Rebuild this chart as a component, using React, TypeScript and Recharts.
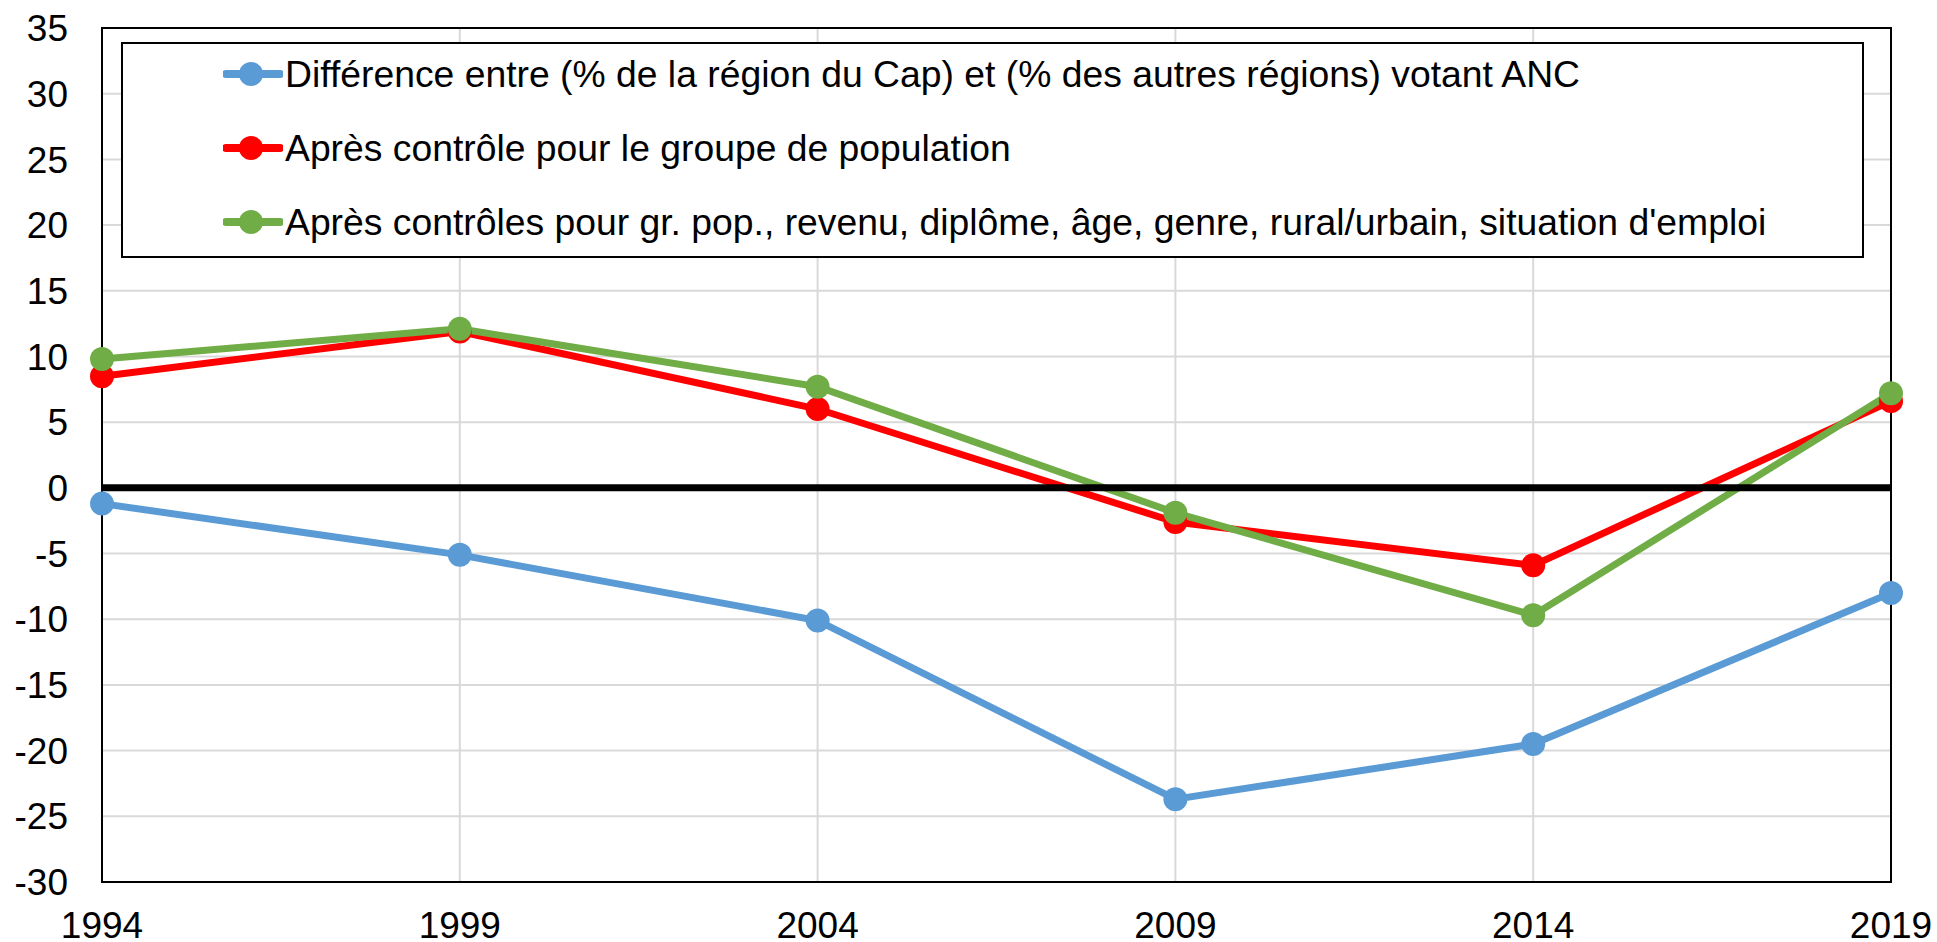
import { LineChart, Line, XAxis, YAxis, CartesianGrid, ReferenceLine, ReferenceArea } from "recharts";

const years = ["1994", "1999", "2004", "2009", "2014", "2019"];
const diffCap = [-1.2, -5.1, -10.1, -23.7, -19.5, -8.0];
const afterPopGroup = [8.5, 11.9, 6.0, -2.6, -5.9, 6.6];
const afterAllControls = [9.8, 12.1, 7.7, -1.9, -9.7, 7.2];
const yTicks = [-30, -25, -20, -15, -10, -5, 0, 5, 10, 15, 20, 25, 30, 35];

const SERIES = [
  { key: "diff", color: "#5B9BD5", label: "Différence entre (% de la région du Cap) et (% des autres régions) votant ANC" },
  { key: "pop", color: "#FF0000", label: "Après contrôle pour le groupe de population" },
  { key: "all", color: "#70AD47", label: "Après contrôles pour gr. pop., revenu, diplôme, âge, genre, rural/urbain, situation d'emploi" },
];

const data = years.map((year, i) => ({
  year,
  diff: diffCap[i],
  pop: afterPopGroup[i],
  all: afterAllControls[i],
}));

const FONT = "'Liberation Sans', Arial, sans-serif";

function LegendBox() {
  return (
    <div
      style={{
        position: "absolute",
        left: 121,
        top: 42,
        width: 1743,
        height: 216,
        boxSizing: "border-box",
        border: "2px solid #000",
        background: "#fff",
        fontFamily: FONT,
        fontSize: 37.3,
        color: "#000",
      }}
    >
      {SERIES.map((s, i) => (
        <div
          key={s.key}
          style={{ position: "absolute", left: 100, top: 30 + i * 74 - 22, height: 44, display: "flex", alignItems: "center" }}
        >
          <svg width={60} height={44} style={{ display: "block" }}>
            <line x1={3} y1={22} x2={57} y2={22} stroke={s.color} strokeWidth={8} strokeLinecap="round" />
            <circle cx={28} cy={22} r={12} fill={s.color} />
          </svg>
          <span style={{ marginLeft: 2, whiteSpace: "nowrap" }}>{s.label}</span>
        </div>
      ))}
    </div>
  );
}

export default function App() {
  return (
    <div style={{ position: "absolute", left: 0, top: 0, width: 1937, height: 942, background: "#fff" }}>
      <LineChart width={1937} height={942} data={data} margin={{ top: 28, right: 46, bottom: 0, left: 0 }}>
        <CartesianGrid stroke="#D9D9D9" strokeWidth={2} />
        <XAxis
          dataKey="year"
          tickSize={0}
          tickMargin={30}
          height={60}
          axisLine={{ stroke: "#000", strokeWidth: 2 }}
          tick={{ fontSize: 37, fill: "#000", fontFamily: FONT }}
          interval={0}
        />
        <YAxis
          domain={[-30, 35]}
          ticks={yTicks}
          width={102}
          tickSize={0}
          tickMargin={34}
          interval={0}
          axisLine={{ stroke: "#000", strokeWidth: 2 }}
          tick={{ fontSize: 37, fill: "#000", fontFamily: FONT }}
        />
        <ReferenceArea x1="1994" x2="2019" y1={-30} y2={35} fill="none" stroke="#000" strokeWidth={2} />
        {SERIES.map((s) => (
          <Line
            key={s.key}
            dataKey={s.key}
            stroke={s.color}
            strokeWidth={7}
            dot={{ r: 12, fill: s.color, stroke: s.color, strokeWidth: 0 }}
            isAnimationActive={false}
          />
        ))}
        <ReferenceLine y={0} stroke="#000" strokeWidth={7} />
      </LineChart>
      <LegendBox />
    </div>
  );
}
